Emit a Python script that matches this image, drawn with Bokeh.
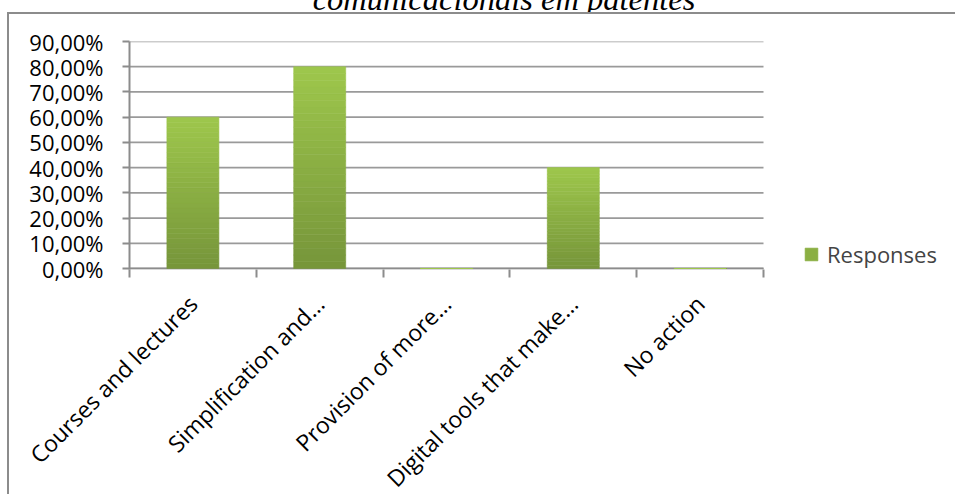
import math
import numpy as np
from bokeh.plotting import figure
from bokeh.layouts import column, row
from bokeh.models import FixedTicker, Legend, LegendItem, Range1d, Div, GlobalInlineStyleSheet
from bokeh.embed import file_html
from bokeh.resources import INLINE

# ---- data ----
title_text = "comunicacionais em patentes"
categories = ["Courses and lectures", "Simplification and\u2026", "Provision of more\u2026",
              "Digital tools that make\u2026", "No action"]
responses = [0.60, 0.80, 0.00, 0.40, 0.00]
series_name = "Responses"
y_ticks = [0.0, 0.1, 0.2, 0.3, 0.4, 0.5, 0.6, 0.7, 0.8, 0.9]
y_tick_labels = ["0,00%", "10,00%", "20,00%", "30,00%", "40,00%", "50,00%",
                 "60,00%", "70,00%", "80,00%", "90,00%"]

# ---- layout (page pixels) ----
PAGE_W, PAGE_H = 955, 494
TITLE_H = 12          # title strip height (text clipped at top)
BORDER_X = 7          # chart-area frame left offset
BW = 2                # frame line width
EXTRA_H = 60          # canvas runs past the page bottom (page clips it), room for long labels
DY = 1                # small vertical correction
OX, OY = BORDER_X + BW, TITLE_H + BW   # canvas origin on page
W, H = PAGE_W - OX, PAGE_H - OY + EXTRA_H
PLOT_L, PLOT_R = 129 - OX, 763 - OX
PLOT_T, PLOT_B = 42 - OY - DY, 269 - OY - DY
GRAY = "#8c8c8c"
GRID = "#9a9a9a"
FONT = "Open Sans"
TITLE_CX = 504

n = len(categories)
centers = [i + 0.5 for i in range(n)]
bounds = [float(i) for i in range(n + 1)]
vals = np.array(responses)

# the frame runs to the right canvas edge so the legend (drawn inside it) is visible;
# the category area occupies PLOT_L..PLOT_R of it
x_end = n * (W - PLOT_L) / (PLOT_R - PLOT_L)
px_per_unit_y = (PLOT_B - PLOT_T) / (y_ticks[-1] - y_ticks[0])
y_start = y_ticks[0] - 1.0 / px_per_unit_y

p = figure(width=W, height=H, output_backend="svg", toolbar_location=None,
           x_range=Range1d(0, x_end), y_range=Range1d(y_start, y_ticks[-1]),
           min_border_left=PLOT_L, min_border_right=0,
           min_border_top=PLOT_T, min_border_bottom=H - PLOT_B - 1)
p.outline_line_color = None
p.background_fill_color = "white"
p.border_fill_color = "white"

# horizontal gridlines and category axis line, only over the category area
p.segment(x0=[0.0] * len(y_ticks), x1=[float(n)] * len(y_ticks), y0=y_ticks, y1=y_ticks,
          line_color=GRID, line_width=1.7)
p.segment(x0=[0.0], x1=[float(n)], y0=[y_ticks[0]], y1=[y_ticks[0]],
          line_color=GRAY, line_width=2)

# gradient bars (light on top, darker at bottom)
top_rgb = np.array([0x9e, 0xc7, 0x4c])
bot_rgb = np.array([0x76, 0x95, 0x3a])
N = 30
mid_renderer = None
for k in range(N):
    t = (k + 0.5) / N
    rgb = bot_rgb + (top_rgb - bot_rgb) * t
    col = "#%02x%02x%02x" % tuple(int(round(c)) for c in rgb)
    r = p.vbar(x=centers, bottom=vals * k / N, top=vals * (k + 1) / N, width=0.41,
               fill_color=col, line_color=col, line_width=0.6)
    if k == N // 2:
        mid_renderer = r

# axes
p.xaxis.ticker = FixedTicker(ticks=centers, minor_ticks=bounds)
p.xaxis.major_label_overrides = {c: lab for c, lab in zip(centers, categories)}
p.xaxis.major_label_orientation = math.pi / 4
p.xaxis.axis_line_color = None
p.xaxis.major_tick_in = 0
p.xaxis.major_tick_out = 0
p.xaxis.minor_tick_in = 0
p.xaxis.minor_tick_out = 8
p.xaxis.minor_tick_line_color = GRAY
p.xaxis.minor_tick_line_width = 2
p.xaxis.major_label_standoff = 22
p.xaxis.major_label_text_font_size = "23px"

p.yaxis.ticker = FixedTicker(ticks=y_ticks)
p.yaxis.major_label_overrides = {v: lab for v, lab in zip(y_ticks, y_tick_labels)}
p.yaxis.axis_line_color = GRAY
p.yaxis.axis_line_width = 2
p.yaxis.major_tick_in = 0
p.yaxis.major_tick_out = 7
p.yaxis.minor_tick_line_color = None
p.yaxis.major_tick_line_color = GRAY
p.yaxis.major_tick_line_width = 2
p.yaxis.major_label_standoff = 19
p.yaxis.major_label_text_font_size = "22px"

for ax in (p.xaxis, p.yaxis):
    ax.major_label_text_font = FONT
    ax.major_label_text_color = "black"

p.xgrid.visible = False
p.ygrid.visible = False

# legend
LEG_X = 805 - 129 - 2
legend = Legend(items=[LegendItem(label=series_name, renderers=[mid_renderer])],
                location=(LEG_X, 0), border_line_color=None, background_fill_alpha=0,
                padding=0, margin=0, glyph_width=16, glyph_height=16,
                label_text_font=FONT, label_text_font_size="22px", label_standoff=8)
p.add_layout(legend, "center")

# title strip: italic serif title whose upper part is cut off
span_left = 2 * TITLE_CX - PAGE_W
title_html = (
    f'<div style="position:relative;width:{PAGE_W}px;height:{TITLE_H}px;overflow:hidden;">'
    f'<span style="position:absolute;left:{span_left}px;top:-17px;width:{PAGE_W - span_left}px;'
    f'text-align:center;font-family:\'Liberation Serif\';font-style:italic;font-size:32.5px;'
    f'line-height:32px;white-space:nowrap;color:black;">{title_text}</span></div>'
)
title_div = Div(text=title_html, width=PAGE_W, height=TITLE_H,
                styles={"overflow": "hidden", "margin": "0px", "padding": "0px"})

# chart-area frame lines (top and left), as plain filled strips
top_line = Div(text="", width=PAGE_W - BORDER_X, height=BW, margin=(0, 0, 0, BORDER_X),
               styles={"background-color": GRAY})
left_line = Div(text="", width=BW, height=H, margin=(0, 0, 0, BORDER_X),
                styles={"background-color": GRAY})

page_css = GlobalInlineStyleSheet(css="html, body { overflow: hidden !important; }")
layout = column(title_div, top_line, row(left_line, p, spacing=0), spacing=0,
                stylesheets=[page_css])
open("out.html", "w").write(file_html(layout, INLINE))
